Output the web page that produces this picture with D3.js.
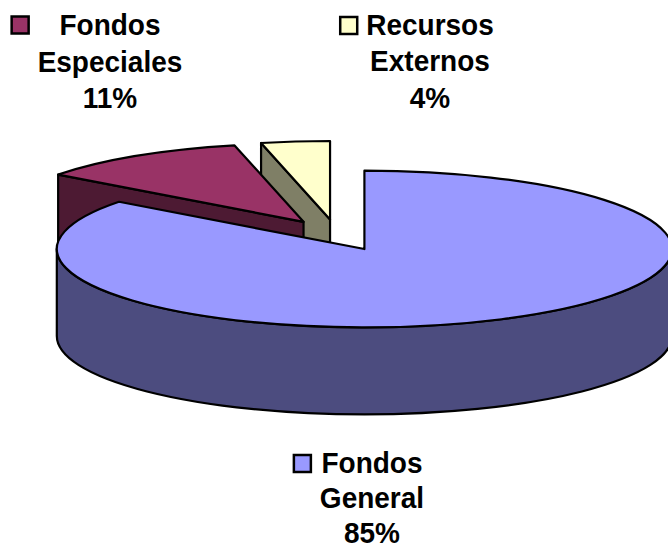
<!DOCTYPE html>
<html lang="en">
<head>
<meta charset="utf-8">
<style>
  body { margin: 0; background: #ffffff; }
  svg { display: block; }
  .face { stroke: #000; stroke-width: 2.2px; stroke-linejoin: round; }
  .lbl { font-family: "Liberation Sans", Arial, sans-serif; font-weight: bold; font-size: 28px; fill: #000; }
  .key { stroke: #000; stroke-width: 2.5px; }
</style>
<script src="https://cdn.jsdelivr.net/npm/d3@7"></script>
</head>
<body>
<script>
// data
var categories = ["Fondos General", "Fondos Especiales", "Recursos Externos"];
var labelLines = [["Fondos", "General"], ["Fondos", "Especiales"], ["Recursos", "Externos"]];
var values = [85.3, 11.1, 3.6];
var topColors = ["#9999ff", "#993366", "#ffffcc"];
var sideColors = ["#4c4c7f", "#4d1a33", "#7f7f66"];

var width = 668, height = 546;

// 3d pie geometry
var cx = 337, cy = 235;
var rx = 307.6, ry = 78.4, depth = 87, explode = 0.2;

var svg = d3.select("body").append("svg")
  .attr("width", width)
  .attr("height", height);

var pie = d3.pie().sort(null).value(function(d) { return d; });
var arcs = pie(values);
var total = d3.sum(values);

function P(c, a, dz) {
  return [c[0] + rx * Math.sin(a), c[1] - ry * Math.cos(a) + (dz || 0)];
}

function topPath(c, a0, a1) {
  var p0 = P(c, a0), p1 = P(c, a1);
  var large = (a1 - a0) > Math.PI ? 1 : 0;
  return "M" + c + "L" + p0 + "A" + rx + "," + ry + " 0 " + large + " 1 " + p1 + "Z";
}

function sidePath(c, a0, a1) {
  var s = Math.max(a0, Math.PI / 2), e = Math.min(a1, 3 * Math.PI / 2);
  if (e <= s) return null;
  var t0 = P(c, s), t1 = P(c, e), b1 = P(c, e, depth), b0 = P(c, s, depth);
  return "M" + t0 + "A" + rx + "," + ry + " 0 0 1 " + t1 +
         "L" + b1 + "A" + rx + "," + ry + " 0 0 0 " + b0 + "Z";
}

function wallPath(c, a) {
  var t = P(c, a), b = P(c, a, depth);
  return "M" + c + "L" + t + "L" + b + "L" + c[0] + "," + (c[1] + depth) + "Z";
}

// slice centres (exploded)
arcs.forEach(function(d, i) {
  var m = (d.startAngle + d.endAngle) / 2;
  d.mid = m;
  d.i = i;
  d.c = [cx + explode * rx * Math.sin(m), cy - explode * ry * Math.cos(m)];
});

// back to front
var order = arcs.slice().sort(function(a, b) { return Math.cos(b.mid) - Math.cos(a.mid); });

var g = svg.append("g");
order.forEach(function(d) {
  var s = g.append("g");
  // start wall faces viewer when sin < 0
  if (Math.sin(d.startAngle) < -1e-6) {
    s.append("path").attr("class", "face").attr("d", wallPath(d.c, d.startAngle)).attr("fill", sideColors[d.i]);
  }
  if (Math.sin(d.endAngle) > 1e-6) {
    s.append("path").attr("class", "face").attr("d", wallPath(d.c, d.endAngle)).attr("fill", sideColors[d.i]);
  }
  var sp = sidePath(d.c, d.startAngle, d.endAngle);
  if (sp) s.append("path").attr("class", "face").attr("d", sp).attr("fill", sideColors[d.i]);
  s.append("path").attr("class", "face").attr("d", topPath(d.c, d.startAngle, d.endAngle)).attr("fill", topColors[d.i]);
});

// labels
var labelPos = [
  { x: 372, y: [473.5, 508.5, 543.5] },
  { x: 110, y: [35, 72, 108.5] },
  { x: 430, y: [35.5, 71.5, 108] }
];

arcs.forEach(function(d, i) {
  var lg = svg.append("g");
  var lines = labelLines[i].concat([Math.round(values[i] / total * 100) + "%"]);
  var minX = Infinity;
  lines.forEach(function(t, k) {
    var y = labelPos[i].y[k];
    var txt = lg.append("text").attr("class", "lbl")
      .attr("x", labelPos[i].x).attr("y", y)
      .attr("transform", "translate(0," + y + ") scale(1,1.07) translate(0," + (-y) + ")")
      .attr("text-anchor", "middle").text(t);
    minX = Math.min(minX, txt.node().getBBox().x);
  });
  lg.append("rect").attr("class", "key")
    .attr("x", minX - 9 - 17).attr("y", labelPos[i].y[0] - 18.5)
    .attr("width", 17).attr("height", 17)
    .attr("fill", topColors[i]);
});
</script>
</body>
</html>
